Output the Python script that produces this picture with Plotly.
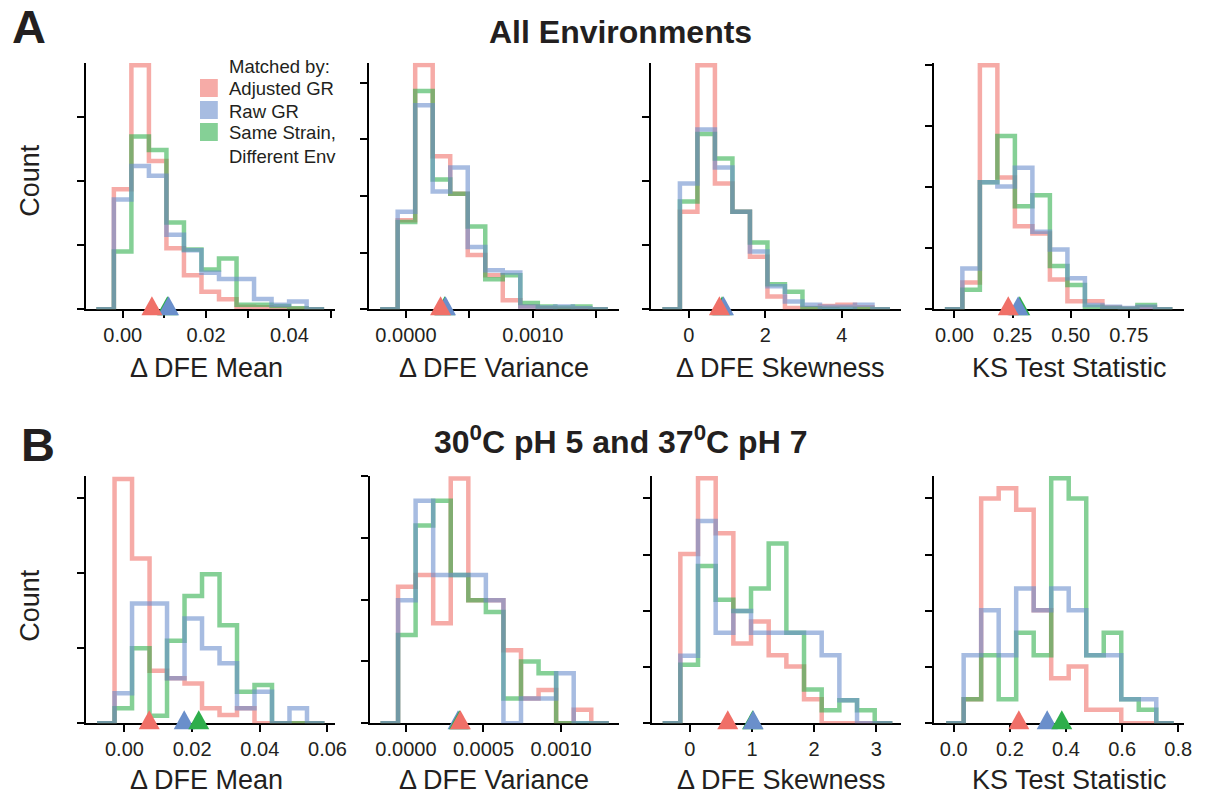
import plotly.graph_objects as go

W, H = 1209, 797
FONT = "Liberation Sans, Arial, Helvetica, sans-serif"
INK = "#231f20"

# ---------------- DATA ----------------
series_names = ["Adjusted GR", "Raw GR", "Same Strain, Different Env"]

# Panel A: All Environments  (counts in arbitrary units, one y tick = 10)
A_mean_start, A_mean_width = -0.00634, 0.004206
A_mean_adj = [0, 18.7, 38.0, 23.1, 9.5, 5.3, 2.75, 1.56, 0.4, 0.3, 0.2, 0.1, 0]
A_mean_raw = [0, 17.1, 22.3, 20.8, 11.6, 9.2, 5.7, 4.7, 4.7, 1.6, 0.7, 1.2, 0]
A_mean_env = [0, 9.0, 26.9, 24.8, 13.5, 9.3, 6.2, 7.9, 0.7, 0.7, 0.5, 0.15, 0]
A_mean_centers = [0.0070, 0.0110, 0.0107]

A_var_start, A_var_width = -0.000203, 0.000138
A_var_adj = [0, 15.7, 43.1, 27.0, 20.4, 9.6, 6.0, 1.6, 0.5, 0.2, 0.1, 0.1, 0]
A_var_raw = [0, 17.2, 36.0, 20.8, 25.0, 11.0, 6.9, 6.5, 0.5, 0.3, 0.5, 0.2, 0]
A_var_env = [0, 15.4, 38.5, 22.9, 20.4, 14.6, 5.3, 6.0, 1.1, 0.5, 0.3, 0.5, 0]
A_var_centers = [0.000273, 0.000312, 0.000305]

A_skew_start, A_skew_width = -0.691, 0.458
A_skew_adj = [0, 15.2, 38.0, 19.6, 15.2, 8.2, 2.0, 0.2, 0.2, 0.5, 0.7, 0.3, 0]
A_skew_raw = [0, 19.6, 28.0, 22.1, 15.2, 9.0, 3.6, 1.2, 0.7, 0.4, 0.4, 0.7, 0]
A_skew_env = [0, 16.8, 27.3, 23.5, 15.2, 10.4, 3.9, 2.75, 0.15, 0.1, 0.1, 0.1, 0]
A_skew_centers = [0.80, 0.907, 0.87]

A_ks_start, A_ks_width = -0.0412, 0.0753
A_ks_adj = [0, 4.4, 40.0, 21.6, 13.6, 12.4, 4.9, 1.3, 1.3, 0.3, 0.1, 0.3, 0]
A_ks_raw = [0, 6.7, 20.8, 20.1, 23.2, 12.7, 9.8, 5.1, 0.7, 0.4, 0.2, 0.4, 0]
A_ks_env = [0, 3.2, 20.8, 28.4, 16.9, 18.7, 7.1, 4.0, 0.4, 0.2, 0.1, 0.7, 0]
A_ks_centers = [0.2315, 0.274, 0.281]

# Panel B: 30C pH 5 and 37C pH 7
B_mean_start, B_mean_width = -0.0081, 0.00517
B_mean_adj = [0, 32.6, 22.0, 7.0, 6.0, 5.3, 2.0, 1.1, 2.0, 0, 0, 0, 0]
B_mean_raw = [0, 4.0, 16.0, 16.0, 6.0, 14.0, 10.0, 8.0, 2.0, 4.2, 0, 2.0, 0]
B_mean_env = [0, 2.0, 10.0, 1.0, 11.0, 17.0, 19.9, 13.1, 4.2, 5.1, 0, 0, 0]
B_mean_centers = [0.00732, 0.01766, 0.02195]

B_var_start, B_var_width = -0.0001638, 0.0001132
B_var_adj = [0, 22.1, 24.0, 16.2, 39.6, 19.9, 19.9, 11.8, 4.0, 5.4, 0, 2.2, 0]
B_var_raw = [0, 19.9, 36.0, 24.0, 24.0, 24.0, 19.9, 0, 4.0, 4.0, 8.1, 0, 0]
B_var_env = [0, 14.3, 32.0, 36.0, 24.0, 19.9, 18.0, 4.0, 10.0, 8.1, 0, 0, 0]
B_var_centers = [0.000351, 0.000336, 0.000345]

B_skew_start, B_skew_width = -0.4355, 0.2841
B_skew_adj = [0, 30.1, 43.6, 33.8, 14.2, 18.1, 12.1, 10.1, 4.3, 0, 0, 0, 0]
B_skew_raw = [0, 12.0, 36.0, 16.1, 20.0, 16.1, 16.1, 16.1, 16.1, 12.1, 4.1, 0, 0]
B_skew_env = [0, 10.4, 28.0, 22.0, 20.0, 24.0, 32.0, 16.1, 6.0, 2.3, 4.1, 2.3, 0]
B_skew_centers = [0.611, 1.02, 1.01]

B_ks_start, B_ks_width = -0.0271, 0.0624
B_ks_adj = [0, 4.3, 40.0, 41.8, 38.0, 20.1, 8.0, 10.1, 2.4, 2.4, 0, 0, 0]
B_ks_raw = [0, 12.1, 20.1, 12.1, 24.0, 20.1, 24.0, 20.1, 12.1, 12.1, 4.3, 4.3, 0]
B_ks_env = [0, 4.3, 12.1, 4.3, 16.1, 12.1, 43.6, 40.0, 12.1, 16.1, 4.3, 2.4, 0]
B_ks_centers = [0.232, 0.333, 0.385]

# tick labels (labelled ticks) and extra unlabelled ticks
mean_ticks_A = [0.0, 0.02, 0.04]
mean_text_A = ["0.00", "0.02", "0.04"]
mean_minor_A = [0.01, 0.03, 0.05]
var_ticks_A = [0.0, 0.0010]
var_text_A = ["0.0000", "0.0010"]
var_minor_A = [0.0005, 0.0015]
skew_ticks_A = [0, 2, 4]
skew_text_A = ["0", "2", "4"]
ks_ticks_A = [0.0, 0.25, 0.50, 0.75]
ks_text_A = ["0.00", "0.25", "0.50", "0.75"]
mean_ticks_B = [0.0, 0.02, 0.04, 0.06]
mean_text_B = ["0.00", "0.02", "0.04", "0.06"]
var_ticks_B = [0.0, 0.0005, 0.0010]
var_text_B = ["0.0000", "0.0005", "0.0010"]
skew_ticks_B = [0, 1, 2, 3]
skew_text_B = ["0", "1", "2", "3"]
ks_ticks_B = [0.0, 0.2, 0.4, 0.6, 0.8]
ks_text_B = ["0.0", "0.2", "0.4", "0.6", "0.8"]
count_ticks = [0, 10, 20, 30, 40]

x_titles = ["\u0394 DFE Mean", "\u0394 DFE Variance", "\u0394 DFE Skewness", "KS Test Statistic"]

panels = [
    (A_mean_start, A_mean_width, [A_mean_adj, A_mean_raw, A_mean_env], A_mean_centers, mean_ticks_A, mean_text_A, mean_minor_A),
    (A_var_start, A_var_width, [A_var_adj, A_var_raw, A_var_env], A_var_centers, var_ticks_A, var_text_A, var_minor_A),
    (A_skew_start, A_skew_width, [A_skew_adj, A_skew_raw, A_skew_env], A_skew_centers, skew_ticks_A, skew_text_A, None),
    (A_ks_start, A_ks_width, [A_ks_adj, A_ks_raw, A_ks_env], A_ks_centers, ks_ticks_A, ks_text_A, None),
    (B_mean_start, B_mean_width, [B_mean_adj, B_mean_raw, B_mean_env], B_mean_centers, mean_ticks_B, mean_text_B, None),
    (B_var_start, B_var_width, [B_var_adj, B_var_raw, B_var_env], B_var_centers, var_ticks_B, var_text_B, None),
    (B_skew_start, B_skew_width, [B_skew_adj, B_skew_raw, B_skew_env], B_skew_centers, skew_ticks_B, skew_text_B, None),
    (B_ks_start, B_ks_width, [B_ks_adj, B_ks_raw, B_ks_env], B_ks_centers, ks_ticks_B, ks_text_B, None),
]

# ---------------- LAYOUT / STYLE ----------------
line_colors = ["rgba(240,110,104,0.58)", "rgba(104,140,204,0.58)", "rgba(44,174,74,0.58)"]
tri_colors = ["#f07068", "#6a8fcb", "#2eae4b"]
LW = 4.5
draw_order = [0, 2, 1]   # red, green, blue (blue on top)

px_x = [(86.7, 338.3), (372.3, 625), (657.3, 910), (943.3, 1196),
        (87.3, 338.3), (373.3, 625), (658.3, 910), (943.3, 1196)]
x_ranges = [(-0.00886, 0.05093), (-0.000294, 0.001677), (-0.995, 5.55), (-0.0882, 0.988),
            (-0.01124, 0.0622), (-0.000234, 0.001372), (-0.611, 3.396), (-0.0706, 0.821)]
y_tops = [38.4, 43.5, 38.4, 40.4, 33.0, 40.0, 44.0, 44.0]
row_px_y = [(62.7, 309.3), (476.0, 723.3)]
tri_orders = [[2, 1, 0], [2, 1, 0], [2, 1, 0], [2, 1, 0],
              [1, 2, 0], [1, 2, 0], [2, 1, 0], [1, 2, 0]]
title_x_px = [208.5, 499, 788.5, 1080, 209, 499, 789, 1080]
title_y_px = [368, 780]


def step_xy(start, width, counts):
    edges = [start + width * i for i in range(len(counts) + 1)]
    xs = edges[:len(counts)] + [edges[-1]]
    ys = list(counts) + [counts[-1]]
    return xs, ys


fig = go.Figure()
layout = dict(
    width=W, height=H, margin=dict(l=0, r=0, t=0, b=0),
    paper_bgcolor="white", plot_bgcolor="rgba(0,0,0,0)",
    showlegend=False, font=dict(family=FONT, color=INK),
)
shapes = []
annotations = []

for i, (start, width, counts, centers, tv, tt, minor) in enumerate(panels):
    n = i + 1
    sfx = "" if n == 1 else str(n)
    row = 0 if i < 4 else 1
    xa, ya = "x" + sfx, "y" + sfx
    for s in draw_order:
        xs, ys = step_xy(start, width, counts[s])
        fig.add_trace(go.Scatter(
            x=xs, y=ys, mode="lines", name=series_names[s],
            line=dict(shape="hv", width=LW, color=line_colors[s]),
            xaxis=xa, yaxis=ya, hoverinfo="skip", showlegend=False))
    x0, x1 = px_x[i]
    yb, yt = row_px_y[row]
    xdict = dict(
        domain=[x0 / W, x1 / W], range=list(x_ranges[i]), anchor=ya,
        tickvals=tv, ticktext=tt, ticks="outside", ticklen=7, tickwidth=2,
        tickcolor="black", showline=True, linecolor="black", linewidth=2,
        showgrid=False, zeroline=False, layer="below traces",
        tickfont=dict(size=20, color=INK, family=FONT), fixedrange=True)
    if minor:
        xdict["minor"] = dict(tickmode="array", tickvals=minor, ticks="outside",
                              ticklen=7, tickwidth=2, tickcolor="black", showgrid=False)
    layout["xaxis" + sfx] = xdict
    layout["yaxis" + sfx] = dict(
        domain=[1 - yt / H, 1 - yb / H], range=[0, y_tops[i]], anchor=xa,
        tickvals=count_ticks, showticklabels=False, ticks="outside", ticklen=7,
        tickwidth=2, tickcolor="black", showline=True, linecolor="black",
        linewidth=2, showgrid=False, zeroline=False, layer="below traces",
        fixedrange=True)
    # centre markers (triangles on the baseline)
    for s in tri_orders[i]:
        shapes.append(dict(
            type="path", xref=xa, yref=ya + " domain", xsizemode="pixel",
            ysizemode="pixel", xanchor=centers[s], yanchor=0,
            path="M-10.5,-6 L10.5,-6 L0,13 Z", fillcolor=tri_colors[s],
            line=dict(width=0), layer="above"))
    annotations.append(dict(
        text=x_titles[i % 4], x=title_x_px[i] / W, y=1 - title_y_px[row] / H,
        xref="paper", yref="paper", showarrow=False, xanchor="center",
        yanchor="middle", font=dict(size=27, color=INK, family=FONT)))

# panel letters, titles, y-labels
extra = [
    dict(text="<b>A</b>", x=29 / W, y=1 - 27 / H, font=dict(size=47)),
    dict(text="<b>B</b>", x=38 / W, y=1 - 444 / H, font=dict(size=47)),
    dict(text="<b>All Environments</b>", x=627 / W, y=1 - 32 / H, font=dict(size=32)),
    dict(text="<b>30<sup>0</sup>C pH 5 and 37<sup>0</sup>C pH 7</b>", x=627 / W,
         y=1 - 440 / H, font=dict(size=32)),
    dict(text="Count", x=30 / W, y=1 - 180 / H, textangle=-90, font=dict(size=27)),
    dict(text="Count", x=30 / W, y=1 - 605 / H, textangle=-90, font=dict(size=27)),
]
for a in extra:
    a.update(xref="paper", yref="paper", showarrow=False, xanchor="center", yanchor="middle")
    a["font"].update(color=INK, family=FONT)
annotations += extra

# legend (manual)
annotations.append(dict(text="Matched by:", x=229 / W, y=1 - 66 / H, xref="paper",
                        yref="paper", showarrow=False, xanchor="left", yanchor="middle",
                        font=dict(size=18.5, color=INK, family=FONT)))
leg_rows = [88, 110, 132]
leg_text = ["Adjusted GR", "Raw GR", "Same Strain,"]
for k in range(3):
    cy = leg_rows[k]
    shapes.append(dict(type="rect", xref="paper", yref="paper",
                       x0=202 / W, x1=220 / W, y0=1 - (cy + 9) / H, y1=1 - (cy - 9) / H,
                       fillcolor=line_colors[k], line=dict(width=0), layer="above"))
    annotations.append(dict(text=leg_text[k], x=229 / W, y=1 - (cy + 1) / H, xref="paper",
                            yref="paper", showarrow=False, xanchor="left", yanchor="middle",
                            font=dict(size=18.5, color=INK, family=FONT)))
annotations.append(dict(text="Different Env", x=229 / W, y=1 - 156 / H, xref="paper",
                        yref="paper", showarrow=False, xanchor="left", yanchor="middle",
                        font=dict(size=18.5, color=INK, family=FONT)))

layout["shapes"] = shapes
layout["annotations"] = annotations
fig.update_layout(**layout)
fig.write_html("out.html",
               config={"displayModeBar": False, "staticPlot": True},
               post_script="document.body.style.margin='0';document.body.style.overflow='hidden';")
